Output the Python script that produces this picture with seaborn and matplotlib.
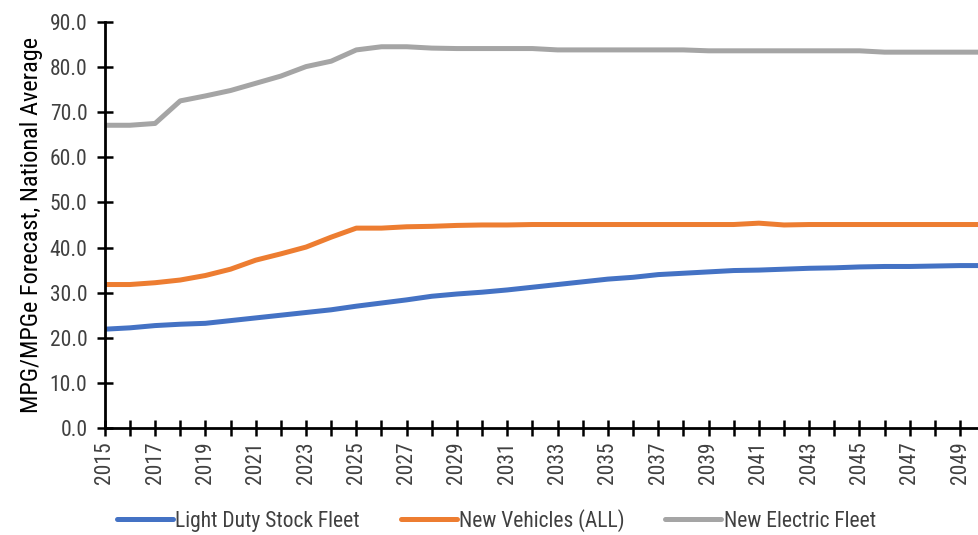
import matplotlib
matplotlib.use("Agg")
import matplotlib.pyplot as plt
import seaborn as sns
import pandas as pd
from matplotlib import font_manager

years = list(range(2015, 2051))
light_duty = [21.9, 22.2, 22.7, 23.0, 23.2, 23.8, 24.4, 25.0, 25.6, 26.2,
              27.0, 27.7, 28.4, 29.2, 29.7, 30.1, 30.6, 31.2, 31.8, 32.4,
              33.0, 33.4, 34.0, 34.3, 34.6, 34.9, 35.0, 35.2, 35.4, 35.5,
              35.7, 35.8, 35.8, 35.9, 36.0, 36.0]
new_vehicles = [31.8, 31.8, 32.2, 32.8, 33.8, 35.2, 37.2, 38.6, 40.1, 42.3,
                44.3, 44.3, 44.6, 44.7, 44.9, 45.0, 45.0, 45.1, 45.1, 45.1,
                45.1, 45.1, 45.1, 45.1, 45.1, 45.1, 45.4, 45.0, 45.1, 45.1,
                45.1, 45.1, 45.1, 45.1, 45.1, 45.1]
new_electric = [67.1, 67.1, 67.5, 72.5, 73.6, 74.8, 76.4, 78.0, 80.1, 81.3,
                83.8, 84.5, 84.5, 84.2, 84.1, 84.1, 84.1, 84.1, 83.8, 83.8,
                83.8, 83.8, 83.8, 83.8, 83.6, 83.6, 83.6, 83.6, 83.6, 83.6,
                83.6, 83.3, 83.3, 83.3, 83.3, 83.3]
series_names = ["Light Duty Stock Fleet", "New Vehicles (ALL)", "New Electric Fleet"]
colors = ["#4472C4", "#ED7D31", "#A5A5A5"]
y_label = "MPG/MPGe Forecast, National Average"

sns.set_theme(style="white")
avail = {f.name for f in font_manager.fontManager.ttflist}
fam = [f for f in ["Liberation Sans Narrow", "Roboto Condensed", "Open Sans Condensed",
                   "Liberation Sans", "DejaVu Sans"] if f in avail]
plt.rcParams["font.family"] = fam

df = pd.DataFrame({
    "year": years * 3,
    "value": light_duty + new_vehicles + new_electric,
    "series": [series_names[0]] * len(years) + [series_names[1]] * len(years) + [series_names[2]] * len(years),
})

fig = plt.figure(figsize=(9.79, 5.35), dpi=100)
ax = fig.add_axes([0.107, 0.2, 0.893, 0.759])
sns.lineplot(data=df, x="year", y="value", hue="series", palette=colors,
             hue_order=series_names, linewidth=3.6, ax=ax, legend=False)

ax.set_xlim(2015, 2049.75)
ax.set_ylim(0, 90)
ax.set_yticks([i * 10 for i in range(10)])
ax.set_yticklabels([f"{i*10:.1f}" for i in range(10)], fontsize=15.5, color="#404040")
ax.set_xticks(years[:-1])
ax.set_xticklabels([str(y) if (y - 2015) % 2 == 0 else "" for y in years[:-1]],
                   rotation=90, fontsize=15.5, color="#404040")
ax.tick_params(axis="both", direction="inout", length=11, width=1.8, color="black",
               bottom=True, left=True)
ax.tick_params(axis="y", pad=7)
ax.tick_params(axis="x", pad=4)
for s in ["top", "right"]:
    ax.spines[s].set_visible(False)
for s in ["left", "bottom"]:
    ax.spines[s].set_color("black")
    ax.spines[s].set_linewidth(2.0)
ax.set_xlabel("")
ax.set_ylabel(y_label, fontsize=17.5, color="black", labelpad=5)
ax.grid(False)

handles = [plt.Line2D([0], [0], color=c, lw=3.6) for c in colors]
fig.legend(handles, series_names, loc="lower center", bbox_to_anchor=(0.507, -0.03),
           ncol=3, frameon=False, fontsize=15.5, handlelength=2.6, handletextpad=0.1,
           columnspacing=1.9, labelcolor="#404040")

fig.savefig("out.png", dpi=100)
